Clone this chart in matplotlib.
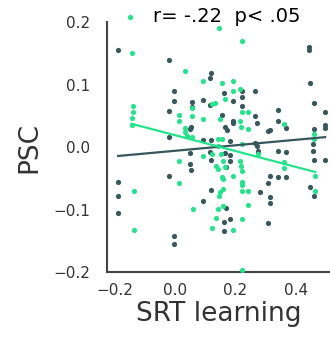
import numpy as np
import matplotlib
matplotlib.use('Agg')
import matplotlib.pyplot as plt

# SRT learning (x) and PSC (y) per subject, two groups
dark_x = [-0.188, -0.019, 0.119, 0.117, -0.003, -0.003, 0.055, 0.093, 0.055, -0.020,
          0.163, 0.221, 0.221, 0.265, 0.193, 0.116, 0.221, 0.445, 0.445, 0.447,
          0.460, 0.497, 0.342, 0.342, 0.265, 0.271, 0.193, 0.193, 0.157, 0.166,
          0.053, 0.050, -0.019, 0.309, 0.316, 0.369, 0.497, 0.497, 0.460, 0.171,
          0.094, 0.119, 0.182, 0.265, 0.271, 0.274, 0.342, 0.368, 0.458, 0.458,
          0.460, 0.497, 0.050, 0.116, 0.166, 0.182, 0.182, 0.119, 0.050, 0.053,
          0.168, -0.188, -0.019, 0.315, 0.342, 0.369, 0.307, 0.119, 0.281, 0.315,
          0.315, 0.447, 0.461, 0.094, 0.169, 0.182, 0.163, 0.307, 0.163, -0.188,
          -0.188, -0.003, -0.003]
dark_y = [0.155, 0.140, 0.118, 0.110, 0.090, 0.074, 0.072, 0.076, 0.064, 0.058,
          0.086, 0.090, 0.080, 0.089, 0.073, 0.067, 0.066, 0.160, 0.155, 0.102,
          0.070, 0.056, 0.060, 0.042, 0.049, 0.038, 0.042, 0.038, 0.051, 0.032,
          0.032, 0.029, 0.016, 0.026, 0.028, 0.030, 0.035, 0.031, 0.029, 0.028,
          0.011, 0.011, 0.010, 0.007, 0.002, -0.006, -0.007, -0.008, 0.005, -0.006,
          -0.020, -0.020, -0.010, -0.008, -0.010, -0.013, -0.022, -0.020, -0.027, -0.037,
          -0.032, -0.056, -0.047, -0.046, -0.048, -0.048, -0.057, -0.069, -0.072, -0.080,
          -0.090, -0.064, -0.078, -0.086, -0.097, -0.115, -0.120, -0.122, -0.135, -0.079,
          -0.105, -0.143, -0.155]

green_x = [-0.143, 0.147, 0.221, 0.033, 0.094, 0.155, 0.193, 0.215, 0.193, 0.166,
           0.122, 0.132, 0.057, 0.221, 0.243, 0.014, 0.057, 0.149, 0.094, 0.014,
           0.215, 0.219, 0.243, 0.033, 0.033, 0.039, 0.057, 0.143, 0.155, -0.138,
           -0.138, -0.143, -0.143, 0.362, 0.460, 0.460, 0.143, 0.221, 0.094, 0.122,
           0.152, 0.275, 0.014, 0.160, 0.215, 0.219, 0.136, 0.143, 0.166, 0.221,
           0.362, 0.362, 0.155, 0.159, 0.193, 0.014, 0.221, 0.221, 0.158, 0.221,
           0.243, 0.149, 0.147, 0.464, 0.464, -0.136, 0.158, 0.143, 0.058, 0.243,
           0.136, 0.221, 0.124, 0.193, -0.136, 0.223]
green_y = [0.150, 0.190, 0.170, 0.121, 0.105, 0.103, 0.106, 0.093, 0.089, 0.077,
           0.069, 0.070, 0.062, 0.056, 0.056, 0.052, 0.050, 0.045, 0.045, 0.041,
           0.041, 0.032, 0.029, 0.030, 0.024, 0.018, 0.016, 0.013, 0.013, 0.066,
           0.056, 0.046, 0.036, 0.037, 0.021, 0.013, 0.002, 0.005, -0.014, -0.011,
           -0.011, -0.011, -0.023, -0.022, -0.022, -0.030, -0.030, -0.035, -0.032, -0.039,
           -0.024, -0.033, -0.048, -0.051, -0.047, -0.058, -0.056, -0.061, -0.067, -0.070,
           -0.071, -0.072, -0.078, -0.046, -0.070, -0.071, -0.094, -0.099, -0.099, -0.093,
           -0.114, -0.115, -0.130, -0.133, -0.133, -0.196]

# regression lines (slope, intercept)
dark_fit = [0.044, -0.006]
green_fit = [-0.127, 0.019]

legend_label = 'r= -.22  p< .05'
xticks = [-0.2, 0.0, 0.2, 0.4]
yticks = [-0.2, -0.1, 0.0, 0.1, 0.2]

dark_col = '#36585d'
green_col = '#25e38b'


def tick_fmt(t):
    return ('%.1f' % t).replace('-', '\u2212')


fig = plt.figure(figsize=(3.3, 3.4), dpi=100)
ax = fig.add_axes([0.324, 0.2, 0.676, 0.735])

ax.scatter(dark_x, dark_y, s=14, color=dark_col, linewidths=0, zorder=2)
ax.scatter(green_x, green_y, s=14, color=green_col, linewidths=0, zorder=3,
           label=legend_label)

xd = np.array([min(dark_x), max(dark_x)])
ax.plot(xd, np.polyval(dark_fit, xd), color=dark_col, lw=1.6, zorder=4)
xg = np.array([min(green_x), max(green_x)])
ax.plot(xg, np.polyval(green_fit, xg), color=green_col, lw=1.6, zorder=4)

ax.set_xlim(-0.2252, 0.513)
ax.set_ylim(-0.2, 0.2)
ax.set_xticks(xticks)
ax.set_yticks(yticks)
ax.set_xticklabels([tick_fmt(t) for t in xticks])
ax.set_yticklabels([tick_fmt(t) for t in yticks])
ax.tick_params(length=0, labelsize=11, colors='#333333')
ax.tick_params(axis='y', pad=12)
ax.tick_params(axis='x', pad=8)

for s in ['top', 'right']:
    ax.spines[s].set_visible(False)
for s in ['left', 'bottom']:
    ax.spines[s].set_color('#444444')
    ax.spines[s].set_linewidth(1.5)

ax.set_xlabel('SRT learning', fontsize=19, color='#333333', labelpad=2)
ax.set_ylabel('PSC', fontsize=19, color='#333333', labelpad=8)

ax.legend(loc='upper left', bbox_to_anchor=(-0.02, 1.09), frameon=False,
          fontsize=14, handletextpad=0.2, markerscale=1.0, borderaxespad=0)

fig.savefig('out.png', dpi=100)
